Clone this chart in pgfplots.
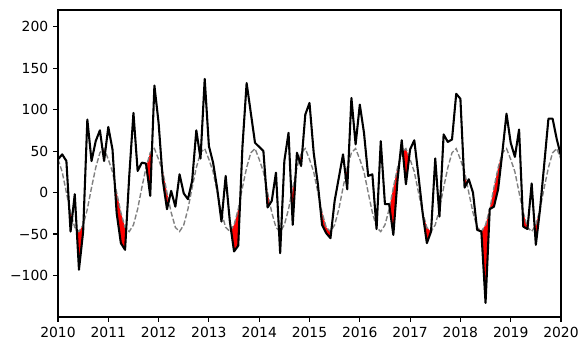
\documentclass[border=0pt]{standalone}
\usepackage{fontspec}
\setmainfont{DejaVu Sans}
\usepackage{pgfplots}
\usepackage{pgfplotstable}
\pgfplotsset{compat=1.18}
\usepgfplotslibrary{fillbetween}

\pgfplotstableread{
t v c
0 40 40
1 46 25
2 38 0
3 -47 -24
4 -2 -42
5 -93 -47
6 -47 -39
7 88 -20
8 38 6
9 62 30
10 75 48
11 38 53
12 79 40
13 52 25
14 -25 0
15 -61 -24
16 -69 -42
17 20 -47
18 96 -39
19 26 -20
20 36 6
21 35 30
22 -4 48
23 129 53
24 84 40
25 15 25
26 -20 0
27 2 -24
28 -17 -42
29 22 -47
30 -1 -39
31 -8 -20
32 14 6
33 75 30
34 41 48
35 137 53
36 56 40
37 36 25
38 4 0
39 -35 -24
40 20 -42
41 -35 -47
42 -71 -39
43 -64 -20
44 55 6
45 132 30
46 96 48
47 60 53
48 55 40
49 50 25
50 -18 0
51 -10 -24
52 24 -42
53 -73 -47
54 38 -39
55 72 -20
56 -39 6
57 48 30
58 32 48
59 94 53
60 108 40
61 48 25
62 10 0
63 -39 -24
64 -49 -42
65 -55 -47
66 -10 -39
67 18 -20
68 46 6
69 4 30
70 114 48
71 58 53
72 106 40
73 72 25
74 20 0
75 22 -24
76 -44 -42
77 62 -47
78 -14 -39
79 -14 -20
80 -51 6
81 15 30
82 63 48
83 10 53
84 52 40
85 63 25
86 20 0
87 -25 -24
88 -61 -42
89 -47 -47
90 41 -39
91 -29 -20
92 70 6
93 61 30
94 64 48
95 119 53
96 113 40
97 6 25
98 16 0
99 0 -24
100 -45 -42
101 -47 -47
102 -133 -39
103 -20 -20
104 -17 6
105 4 30
106 48 48
107 95 53
108 60 40
109 43 25
110 76 0
111 -41 -24
112 -44 -42
113 11 -47
114 -63 -39
115 -20 -20
116 34 6
117 89 30
118 89 48
119 64 53
120 44 40
}\data

\begin{document}
\begin{tikzpicture}
\begin{axis}[
  at={(0,0)}, anchor=south west,
  scale only axis, width=362.16pt, height=221.04pt,
  xmin=0, xmax=120, ymin=-150, ymax=220,
  xtick={0,12,24,36,48,60,72,84,96,108,120},
  xticklabels={2010,2011,2012,2013,2014,2015,2016,2017,2018,2019,2020},
  ytick={-100,-50,0,50,100,150,200},
  yticklabels={−100,−50,0,50,100,150,200},
  tick align=outside, xtick pos=left, ytick pos=left,
  major tick length=3.5pt,
  every tick/.style={black, line width=0.8pt},
  axis line style={line width=0.8pt},
  ticklabel style={font=\fontsize{10}{12}\selectfont},
  xticklabel style={yshift=-0.3pt},
  axis on top,
]
\addplot[name path=clim, draw=none] table[x=t, y=c] {\data};
\addplot[name path=obs, draw=none] table[x=t, y=v] {\data};
\addplot[name path=bot, draw=none] coordinates {(0,-150) (120,-150)};
\addplot[red, draw=none] fill between[of=clim and bot];
\addplot[white, draw=none] fill between[of=obs and bot];
\addplot[gray, line width=1pt, dash pattern=on 3.7pt off 1.6pt] table[x=t, y=c] {\data};
\addplot[black, line width=1.5pt, line join=round] table[x=t, y=v] {\data};
\end{axis}
\pgfresetboundingbox
\path[use as bounding box] (-41.76pt,-24.48pt) rectangle (381.6pt,228.24pt);
\end{tikzpicture}
\end{document}
